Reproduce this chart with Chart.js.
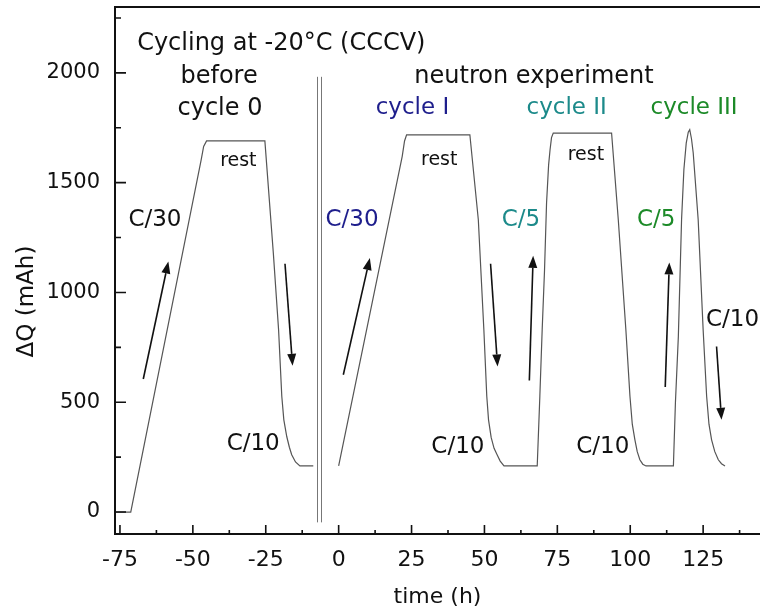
<!DOCTYPE html>
<html>
<head>
<meta charset="utf-8">
<script src="https://cdn.jsdelivr.net/npm/chart.js@4.4.0/dist/chart.umd.min.js"></script>
<style>
  html, body { margin: 0; padding: 0; background: #fff; }
  #wrap { width: 760px; height: 612px; }
</style>
</head>
<body>
<div id="wrap"><canvas id="cycling" width="760" height="612"></canvas></div>
<script>
// cycle 0, before the neutron run: time (h) and charge change (mAh)
var preTime = [-76.7, -71.3, -47.2, -46.3, -45.3, -25.3, -22.4, -20.6, -19.5, -18.8, -17.8, -16.9, -16.1, -14.8, -13.3, -8.7];
var preQ    = [0, 0, 1600, 1665, 1690, 1690, 1179, 830, 527, 420, 344, 295, 261, 228, 210, 210];

// cycles I, II and III during the neutron experiment
var runTime = [0, 21.8, 22.6, 23.3, 45.0, 47.9, 49.8, 50.8, 51.4, 52.3, 53.3, 54.3, 55.4, 56.7, 68.1,
               69.0, 69.8, 70.6, 71.3, 72.0, 72.5, 73.0, 73.6, 93.6, 95.9, 98.5, 99.9, 100.7, 101.6, 102.4,
               103.3, 104.3, 105.4, 114.8, 115.5, 116.5, 117.6, 118.4, 119.2, 119.9, 120.4, 121.0, 121.6,
               123.3, 125.0, 126.2, 127.0, 127.9, 129.0, 130.2, 131.3, 132.5];
var runQ    = [210, 1620, 1690, 1718, 1718, 1331, 830, 527, 420, 340, 290, 262, 232, 210, 210,
               527, 830, 1100, 1407, 1580, 1650, 1705, 1726, 1726, 1331, 830, 527, 400, 329, 275,
               238, 218, 210, 210, 500, 800, 1331, 1560, 1680, 1730, 1741, 1700, 1635,
               1331, 830, 527, 400, 329, 275, 238, 220, 210];

// tick values
var xTicks = [-75, -50, -25, 0, 25, 50, 75, 100, 125];
var yTicks = [0, 500, 1000, 1500, 2000];

// charge / discharge arrows: [time from, Q from, time to, Q to]
var arrows = [
  [-67.0, 606, -58.4, 1141],
  [-18.4, 1131, -15.8, 666],
  [1.6, 625, 10.7, 1157],
  [52.1, 1131, 54.5, 663],
  [65.4, 599, 66.7, 1167],
  [112.0, 569, 113.4, 1137],
  [129.6, 754, 131.3, 420]
];

// double line separating the two runs (h), and its Q extent
var splitTime = [-7.5, -6.2];
var splitQ = [-47, 1982];

var ink = '#111';
var navy = '#1e1e8c';
var teal = '#1c8a8a';
var green = '#1c8a28';
var font = '"DejaVu Sans", sans-serif';

// [text, time, Q, align, size, colour]
var notes = [
  ['Cycling at -20°C (CCCV)', -69.1, 2105, 'left', 24, ink],
  ['before', -41.0, 1956, 'center', 24, ink],
  ['cycle 0', -40.7, 1809, 'center', 24, ink],
  ['neutron experiment', 67.0, 1956, 'center', 24, ink],
  ['cycle I', 25.3, 1814, 'center', 23, navy],
  ['cycle II', 78.2, 1814, 'center', 23, teal],
  ['cycle III', 121.9, 1814, 'center', 23, green],
  ['rest', -34.4, 1574, 'center', 19, ink],
  ['rest', 34.5, 1581, 'center', 19, ink],
  ['rest', 84.8, 1604, 'center', 19, ink],
  ['C/30', -63.0, 1304, 'center', 23, ink],
  ['C/30', 4.6, 1304, 'center', 23, navy],
  ['C/5', 62.5, 1304, 'center', 23, teal],
  ['C/5', 108.9, 1304, 'center', 23, green],
  ['C/10', -29.3, 281, 'center', 23, ink],
  ['C/10', 40.9, 269, 'center', 23, ink],
  ['C/10', 90.6, 269, 'center', 23, ink],
  ['C/10', 126.0, 845, 'left', 23, ink]
];

function points(ts, qs) {
  return ts.map(function (t, i) { return { x: t, y: qs[i] }; });
}

// axis frame, inward ticks, separator, arrows and labels
var decorations = {
  id: 'decorations',
  afterDraw: function (chart) {
    var ctx = chart.ctx, a = chart.chartArea;
    var x = chart.scales.x, y = chart.scales.y;
    ctx.save();

    // separator
    ctx.strokeStyle = '#777';
    ctx.lineWidth = 1;
    splitTime.forEach(function (t) {
      var px = Math.round(x.getPixelForValue(t)) + 0.5;
      ctx.beginPath();
      ctx.moveTo(px, y.getPixelForValue(splitQ[0]));
      ctx.lineTo(px, y.getPixelForValue(splitQ[1]));
      ctx.stroke();
    });

    // arrows
    ctx.strokeStyle = ink;
    ctx.fillStyle = ink;
    ctx.lineWidth = 1.6;
    arrows.forEach(function (ar) {
      var x0 = x.getPixelForValue(ar[0]), y0 = y.getPixelForValue(ar[1]);
      var x1 = x.getPixelForValue(ar[2]), y1 = y.getPixelForValue(ar[3]);
      var ang = Math.atan2(y1 - y0, x1 - x0);
      var len = 12, half = 4.5;
      var bx = x1 - len * Math.cos(ang), by = y1 - len * Math.sin(ang);
      ctx.beginPath();
      ctx.moveTo(x0, y0);
      ctx.lineTo(bx, by);
      ctx.stroke();
      ctx.beginPath();
      ctx.moveTo(x1, y1);
      ctx.lineTo(bx + half * Math.sin(ang), by - half * Math.cos(ang));
      ctx.lineTo(bx - half * Math.sin(ang), by + half * Math.cos(ang));
      ctx.closePath();
      ctx.fill();
    });

    // frame: left, bottom and top
    ctx.strokeStyle = ink;
    ctx.lineWidth = 2;
    ctx.beginPath();
    ctx.moveTo(a.right + 2, a.top);
    ctx.lineTo(a.left, a.top);
    ctx.lineTo(a.left, a.bottom);
    ctx.lineTo(a.right + 2, a.bottom);
    ctx.stroke();

    // inward ticks
    ctx.lineWidth = 1.6;
    ctx.beginPath();
    for (var v = -75; v <= 137.5; v += 12.5) {
      var px = x.getPixelForValue(v);
      var major = xTicks.indexOf(v) >= 0;
      ctx.moveTo(px, a.bottom);
      ctx.lineTo(px, a.bottom - (major ? 9 : 4));
    }
    for (var q = 0; q <= 2250; q += 250) {
      var py = y.getPixelForValue(q);
      var big = yTicks.indexOf(q) >= 0;
      ctx.moveTo(a.left, py);
      ctx.lineTo(a.left + (big ? 11 : 6), py);
    }
    ctx.stroke();

    // labels
    ctx.textBaseline = 'alphabetic';
    notes.forEach(function (n) {
      ctx.font = n[4] + 'px ' + font;
      ctx.fillStyle = n[5];
      ctx.textAlign = n[3];
      ctx.fillText(n[0], x.getPixelForValue(n[1]), y.getPixelForValue(n[2]));
    });

    // axis titles
    ctx.fillStyle = ink;
    ctx.font = '22px ' + font;
    ctx.textAlign = 'center';
    ctx.fillText('time (h)', (a.left + a.right) / 2, a.bottom + 69);
    ctx.translate(a.left - 88, (a.top + a.bottom) / 2 + 31);
    ctx.rotate(-Math.PI / 2);
    ctx.font = '23px ' + font;
    ctx.textBaseline = 'middle';
    ctx.fillText('\u0394Q (mAh)', 0, 0);

    ctx.restore();
  }
};

var line = { showLine: true, borderColor: '#555', borderWidth: 1.2, pointRadius: 0, fill: false };

new Chart(document.getElementById('cycling'), {
  type: 'scatter',
  data: {
    datasets: [
      Object.assign({ data: points(preTime, preQ) }, line),
      Object.assign({ data: points(runTime, runQ) }, line)
    ]
  },
  options: {
    responsive: false,
    animation: false,
    layout: { padding: { top: 7, right: 0, left: 0, bottom: 0 } },
    plugins: { legend: { display: false }, tooltip: { enabled: false } },
    scales: {
      x: {
        type: 'linear',
        min: -76.7,
        max: 144.5,
        grid: { display: false, drawTicks: false },
        border: { display: false },
        afterBuildTicks: function (s) { s.ticks = xTicks.map(function (v) { return { value: v }; }); },
        afterFit: function (s) { s.height = 78; s.paddingLeft = 0; s.paddingRight = 0; },
        ticks: {
          color: ink,
          padding: 13,
          maxRotation: 0,
          autoSkip: false,
          font: { family: font, size: 22 },
          callback: function (v) { return String(v); }
        }
      },
      y: {
        min: -100,
        max: 2300,
        grid: { display: false, drawTicks: false },
        border: { display: false },
        afterBuildTicks: function (s) { s.ticks = yTicks.map(function (v) { return { value: v }; }); },
        afterFit: function (s) { s.width = 115; s.paddingTop = 0; s.paddingBottom = 0; },
        ticks: {
          color: ink,
          padding: 15,
          font: { family: font, size: 21 },
          callback: function (v) { return String(v); }
        }
      }
    }
  },
  plugins: [decorations]
});
</script>
</body>
</html>
